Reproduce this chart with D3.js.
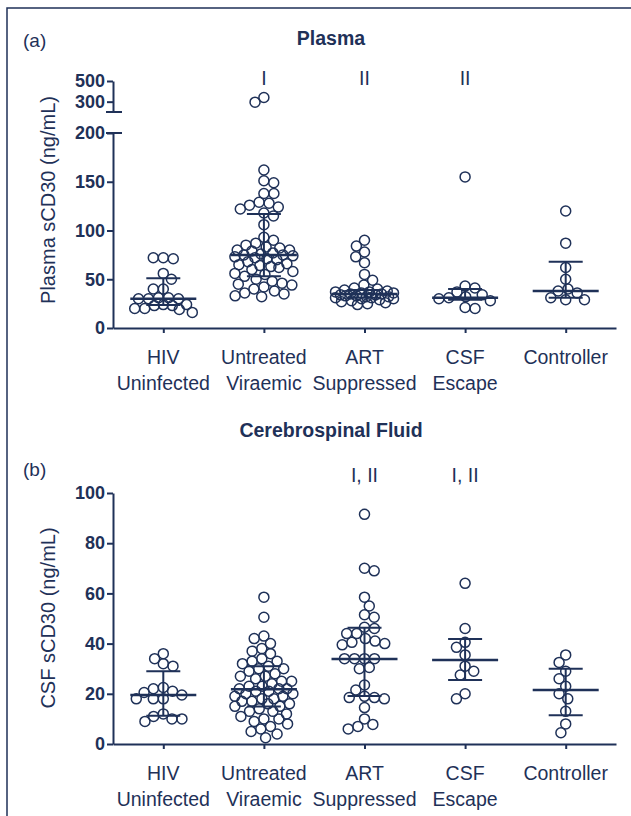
<!DOCTYPE html>
<html>
<head>
<meta charset="utf-8">
<script src="https://cdn.jsdelivr.net/npm/d3@7"></script>
<style>
  body { margin: 0; background: #fff; }
  text { font-family: "Liberation Sans", Arial, sans-serif; fill: #1f3158; }
</style>
</head>
<body>
<svg id="chart"></svg>
<script>
// categories
var groups = ["HIV Uninfected", "Untreated Viraemic", "ART Suppressed", "CSF Escape", "Controller"];
var groupLines = [["HIV", "Uninfected"], ["Untreated", "Viraemic"], ["ART", "Suppressed"], ["CSF", "Escape"], ["Controller"]];

// plasma sCD30 (ng/mL)
var plasmaHIV = [72, 72, 71, 56, 50, 40, 40, 31, 31, 30, 30, 30, 24, 24, 23, 23, 20, 20, 19, 16];
var plasmaUntreated = [340, 295, 162, 151, 149, 138, 138, 129, 128, 126, 124, 122, 118, 115, 106,
  93, 90, 87, 85, 83, 82, 80, 80, 79, 77, 76, 75, 75, 74, 73, 72, 71, 70, 68, 66,
  65, 64, 63, 62, 60, 58, 56, 55, 53, 50, 48, 46, 45, 44, 42, 40, 38, 36, 35, 33, 32];
var plasmaART = [90, 84, 78, 73, 67, 55, 49, 44, 41, 40, 39, 38, 37, 37, 36, 36, 35, 35,
  34, 34, 33, 33, 32, 32, 31, 31, 30, 30, 29, 28, 27, 26, 25, 24];
var plasmaEscape = [155, 43, 41, 37, 34, 32, 31, 30, 28, 21, 20];
var plasmaController = [120, 87, 62, 50, 40, 38, 36, 31, 29, 29];
var plasmaMedian = [30, 75, 35, 31, 38];
var plasmaQ1 = [23.6, 53, 31, 29, 31];
var plasmaQ3 = [51, 117, 39, 40, 68];
var plasmaSig = ["", "I", "II", "II", ""];

// CSF sCD30 (ng/mL)
var csfHIV = [36, 34, 32, 31, 22.5, 22, 21, 20.5, 19.5, 18, 18, 18, 12, 11, 10, 10, 9];
var csfUntreated = [58.5, 50.5, 43, 42, 40, 38, 37, 36, 34, 33, 33, 32, 31, 30, 30, 29, 28, 27, 27, 26,
  25, 25, 24, 23, 23, 22, 22, 22, 21, 21, 20, 20, 19, 19, 18, 18, 17, 17, 16, 16,
  15, 15, 14, 13, 13, 12, 11, 10, 10, 9, 8, 7, 6, 5, 4, 2.5];
var csfART = [91.5, 70, 69, 58.5, 55, 51.5, 50.5, 46.5, 46, 44, 44, 42, 41, 40.5, 40, 39.5,
  34, 34, 34, 34, 30.5, 30, 23.5, 21.5, 19, 18.5, 18.5, 18, 14.5, 10, 7.8, 7, 6];
var csfEscape = [64, 46, 40.5, 38.5, 35.5, 31, 29, 27.5, 20, 18];
var csfController = [35.5, 32.5, 29, 26, 23, 20, 18, 13, 8, 4.5];
var csfMedian = [19.5, 21.8, 33.9, 33.5, 21.5];
var csfQ1 = [11.3, 14.9, 19.1, 25.5, 11.5];
var csfQ3 = [29, 31, 46.3, 41.8, 30];
var csfSig = ["", "", "I, II", "I, II", ""];

// tick labels
var plasmaTicksLow = [0, 50, 100, 150, 200];
var plasmaTicksHigh = [300, 500];
var csfTicks = [0, 20, 40, 60, 80, 100];

var navy = "#1f3158";
var w = 631, h = 816;
var svg = d3.select("#chart").attr("width", w).attr("height", h);

// frame
svg.append("rect")
  .attr("x", 7).attr("y", 8)
  .attr("width", 640).attr("height", 830)
  .attr("fill", "none").attr("stroke", navy).attr("stroke-width", 1.5);

var x = d3.scalePoint().domain(groups).range([113, 616]).padding(0.5);

// beeswarm: push each point sideways until it doesn't collide,
// but never wider than maxW - then just take the least crowded spot
function swarm(values, yf, D, maxW) {
  var pts = values.map(function(v) { return { v: v, y: yf(v) }; })
    .sort(function(a, b) { return a.y - b.y; });
  var placed = [];
  function minDist(c, p) {
    var m = Infinity;
    placed.forEach(function(q) {
      var d = Math.sqrt((q.x - c) * (q.x - c) + (q.y - p.y) * (q.y - p.y));
      if (d < m) m = d;
    });
    return m;
  }
  pts.forEach(function(p, i) {
    var cands = [0];
    placed.forEach(function(q) {
      var dy = Math.abs(q.y - p.y);
      if (dy < D) {
        var dx = Math.sqrt(D * D - dy * dy);
        cands.push(q.x + dx + 0.01, q.x - dx - 0.01);
      }
    });
    var flip = i % 2 ? 1 : -1;
    cands.sort(function(a, b) { return (Math.abs(a) - Math.abs(b)) || (a - b) * flip; });
    p.x = null;
    for (var k = 0; k < cands.length; k++) {
      var c = cands[k];
      if (Math.abs(c) > maxW) break;
      if (minDist(c, p) >= D - 0.001) { p.x = c; break; }
    }
    if (p.x === null) {
      var best = 0, bestD = -1;
      for (var c2 = -maxW; c2 <= maxW; c2 += 1) {
        var d2 = minDist(c2, p);
        if (d2 > bestD + 0.01) { bestD = d2; best = c2; }
      }
      p.x = best;
    }
    placed.push(p);
  });
  return placed;
}

function styleAxis(g) {
  g.select(".domain").attr("stroke", navy).attr("stroke-width", 2);
  g.selectAll(".tick line").attr("stroke", navy).attr("stroke-width", 2);
  g.selectAll(".tick text")
    .attr("fill", navy)
    .style("font-family", "'Liberation Sans', Arial, sans-serif")
    .style("font-size", "18px")
    .style("font-weight", "bold");
}

function panel(opt) {
  var g = svg.append("g");

  // y axes
  opt.axes.forEach(function(a) {
    g.append("g")
      .attr("transform", "translate(113,0)")
      .call(d3.axisLeft(a.scale).tickValues(a.ticks).tickSize(6).tickSizeOuter(0).tickPadding(2))
      .call(styleAxis);
  });
  (opt.caps || []).forEach(function(yy) {
    g.append("line").attr("x1", 106).attr("x2", 122).attr("y1", yy).attr("y2", yy)
      .attr("stroke", navy).attr("stroke-width", 2);
  });

  // x axis
  g.append("g")
    .attr("transform", "translate(0," + opt.y0 + ")")
    .call(d3.axisBottom(x).tickSize(5).tickSizeOuter(0).tickFormat(""))
    .call(styleAxis);

  groupLines.forEach(function(lines, i) {
    var t = g.append("text")
      .attr("x", x(groups[i]))
      .attr("y", opt.y0 + 36)
      .attr("text-anchor", "middle")
      .style("font-size", "19.5px");
    lines.forEach(function(s, j) {
      t.append("tspan").attr("x", x(groups[i])).attr("dy", j ? 26 : 0).text(s);
    });
  });

  // points
  opt.data.forEach(function(vals, i) {
    var cx = x(groups[i]);
    g.selectAll(null)
      .data(swarm(vals, opt.y, 10, 29))
      .enter()
      .append("circle")
      .attr("cx", function(d) { return cx + d.x; })
      .attr("cy", function(d) { return d.y; })
      .attr("r", 5)
      .attr("fill", "none")
      .attr("stroke", navy)
      .attr("stroke-width", 1.5);
  });

  // median and interquartile range
  groups.forEach(function(name, i) {
    var cx = x(name);
    g.append("line").attr("x1", cx).attr("x2", cx)
      .attr("y1", opt.y(opt.q1[i])).attr("y2", opt.y(opt.q3[i]))
      .attr("stroke", navy).attr("stroke-width", 2);
    [opt.q1[i], opt.q3[i]].forEach(function(q) {
      g.append("line").attr("x1", cx - 17).attr("x2", cx + 17)
        .attr("y1", opt.y(q)).attr("y2", opt.y(q))
        .attr("stroke", navy).attr("stroke-width", 2);
    });
    g.append("line").attr("x1", cx - 33).attr("x2", cx + 33)
      .attr("y1", opt.y(opt.median[i])).attr("y2", opt.y(opt.median[i]))
      .attr("stroke", navy).attr("stroke-width", 2.5);
    g.append("text")
      .attr("x", cx).attr("y", opt.sigY)
      .attr("text-anchor", "middle")
      .style("font-size", "19.5px")
      .text(opt.sig[i]);
  });

  // titles
  g.append("text")
    .attr("transform", "translate(55," + opt.titleY + ") rotate(-90)")
    .attr("text-anchor", "middle")
    .style("font-size", "20px")
    .text(opt.yTitle);
  g.append("text")
    .attr("x", 331).attr("y", opt.headY)
    .attr("text-anchor", "middle")
    .style("font-size", "19.5px")
    .style("font-weight", "bold")
    .text(opt.head);
  g.append("text")
    .attr("x", 23).attr("y", opt.tagY)
    .style("font-size", "19px")
    .text(opt.tag);
}

// plasma: broken axis, 0-200 below and 200-500 above
var yLo = d3.scaleLinear().domain([0, 200]).range([328, 133]);
var yHi = d3.scaleLinear().domain([200, 500]).range([112, 81]);
function yPlasma(v) { return v > 200 ? yHi(v) : yLo(v); }

panel({
  y: yPlasma, y0: 328,
  axes: [{ scale: yLo, ticks: plasmaTicksLow }, { scale: yHi, ticks: plasmaTicksHigh }],
  caps: [yLo(200), yHi(200)],
  data: [plasmaHIV, plasmaUntreated, plasmaART, plasmaEscape, plasmaController],
  median: plasmaMedian, q1: plasmaQ1, q3: plasmaQ3,
  sig: plasmaSig, sigY: 85,
  yTitle: "Plasma sCD30 (ng/mL)", titleY: 200,
  head: "Plasma", headY: 45,
  tag: "(a)", tagY: 47
});

var yCsf = d3.scaleLinear().domain([0, 100]).range([744, 493]);

panel({
  y: yCsf, y0: 744,
  axes: [{ scale: yCsf, ticks: csfTicks }],
  data: [csfHIV, csfUntreated, csfART, csfEscape, csfController],
  median: csfMedian, q1: csfQ1, q3: csfQ3,
  sig: csfSig, sigY: 482,
  yTitle: "CSF sCD30 (ng/mL)", titleY: 618,
  head: "Cerebrospinal Fluid", headY: 437,
  tag: "(b)", tagY: 476
});
</script>
</body>
</html>
